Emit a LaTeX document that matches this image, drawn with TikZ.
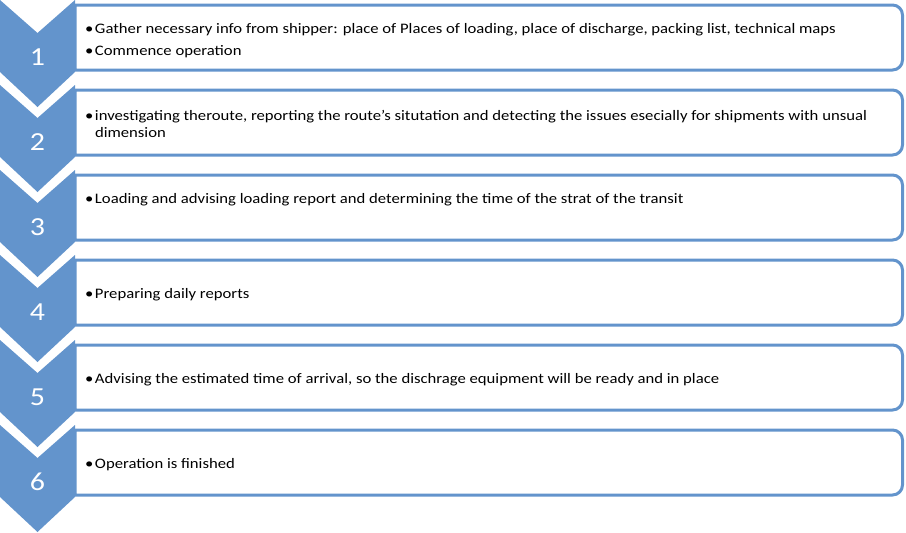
\documentclass[tikz,border=0pt]{standalone}
\usepackage{fontspec}
\setmainfont{Carlito}[FakeStretch=1.15]
\usepackage{xcolor}
\usepackage{tikz}
\usetikzlibrary{positioning}
\definecolor{chevblue}{RGB}{99,148,204}

\begin{document}
\begin{tikzpicture}[x=1pt,y=-1pt,every node/.style={font=\fontsize{14.5}{17}\selectfont}]

\useasboundingbox (0,0) rectangle (906,533);

\def\bul{\textbullet\hspace{1.5pt}}

\def\steps{
41/{\bul Gather necessary info from shipper: place of Places of loading, place of discharge, packing list, technical maps\\[5pt]\bul Commence operation},
39/{\bul investigating theroute, reporting the route's situtation and detecting the issues esecially for shipments with unsual\\\phantom{\bul}dimension},
30/{\bul Loading and advising loading report and determining the time of the strat of the transit},
40/{\bul Preparing daily reports},
40/{\bul Advising the estimated time of arrival, so the dischrage equipment will be ready and in place},
40/{\bul Operation is finished}
}

\def\stepH{85}
\def\cWidth{75}
\def\cNotch{33}
\def\cSide{72}
\def\cTip{107}
\pgfmathsetmacro\cMid{\cWidth/2}

% the text boxes, square on the left and round on the right
\foreach \yc/\txt [count=\ni] in \steps
{
\pgfmathsetmacro\yTop{(\ni-1)*\stepH+5}
\pgfmathsetmacro\yBot{(\ni-1)*\stepH+70}
\draw [chevblue, line width=3pt, fill=white, line join=round] (75,\yTop) -- (892.5,\yTop) arc (-90:0:10) -- (902.5,\yBot-10) arc (0:90:10) -- (75,\yBot) -- cycle;
\node [anchor=west, align=left, inner sep=0pt] (txt\ni) at (85,{(\ni-1)*\stepH+\yc}) {\txt};
}

% the chevrons with their numbers
\foreach \ni in {1,...,6}
{
\pgfmathsetmacro\yo{(\ni-1)*\stepH}
\fill [chevblue] (0,\yo) -- (\cMid,\yo+\cNotch) -- (\cWidth,\yo) -- (\cWidth,\yo+\cSide) -- (\cMid,\yo+\cTip) -- (0,\yo+\cSide) -- cycle;
\node [white, font=\fontsize{26}{26}\selectfont] (num\ni) at (\cMid,\yo+57) {\ni};
}

\end{tikzpicture}
\end{document}
